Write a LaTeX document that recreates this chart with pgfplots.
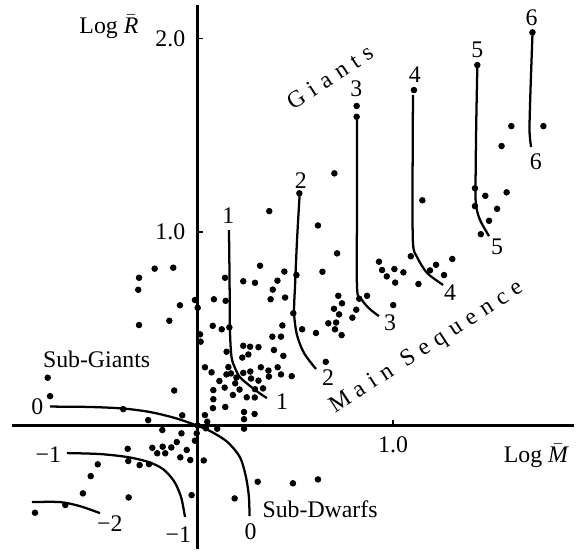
\documentclass[border=0pt]{standalone}
\usepackage{fontspec}
\setmainfont{Liberation Serif}
\usepackage{pgfplots}
\pgfplotsset{compat=1.18}
\newcommand\ls{\kern0.3em}
\begin{document}
\begin{tikzpicture}
\begin{axis}[
  scale only axis, width=242.76pt, height=232.68pt,
  xmin=-1.010, xmax=1.946, ymin=-0.662, ymax=2.198,
  axis lines=none, clip=false,
]
% axes
\draw[line width=1.2pt] (axis cs:-0.949,0) -- (axis cs:1.926,0);
\draw[line width=1.2pt] (axis cs:0,-0.637) -- (axis cs:0,2.172);
\draw[line width=0.6pt] (axis cs:0,1.0) -- (axis cs:0.028,1.0);
\draw[line width=0.6pt] (axis cs:0,2.0) -- (axis cs:0.028,2.0);
\draw[line width=0.6pt] (axis cs:1.0,0) -- (axis cs:1.0,0.03);
\node[anchor=east] at (axis cs:-0.02,2.0) {2.0};
\node[anchor=east] at (axis cs:-0.02,1.0) {1.0};
\node at (axis cs:1.0,-0.099) {1.0};
\node at (axis cs:-0.453,2.059) {Log $\bar{\mbox{\itshape R}}$};
\node at (axis cs:1.731,-0.156) {Log $\bar{\mbox{\itshape M}}$};
% data points
\addplot[only marks, mark=*, mark size=1.15pt, black] table {
x y
-0.219 0.811
-0.124 0.816
-0.299 0.764
-0.303 0.702
-0.090 0.622
-0.013 0.649
0.001 0.609
-0.299 0.520
-0.144 0.542
0.141 0.764
0.084 0.653
0.144 0.645
0.234 0.746
0.294 0.738
0.320 0.826
0.367 1.108
0.444 0.796
0.409 0.749
0.385 0.703
0.374 0.653
0.448 0.662
0.078 0.516
0.124 0.498
0.163 0.508
0.013 0.472
0.016 0.434
0.434 0.518
0.383 0.460
0.427 0.460
0.149 0.382
0.234 0.413
0.269 0.408
0.312 0.406
0.260 0.368
0.229 0.352
0.391 0.391
0.439 0.361
0.038 0.302
0.072 0.276
0.158 0.303
0.171 0.270
0.148 0.265
0.234 0.273
0.270 0.280
0.324 0.302
0.363 0.285
0.410 0.302
0.427 0.265
0.482 0.256
0.365 0.254
0.112 0.231
0.199 0.249
0.215 0.187
0.274 0.244
0.312 0.233
0.139 0.197
0.193 0.219
0.081 0.184
0.181 0.159
0.252 0.147
0.293 0.146
0.294 0.189
0.335 0.193
0.081 0.137
0.079 0.091
0.142 0.097
0.238 0.071
0.292 0.061
0.238 0.034
0.038 0.055
0.050 0.021
0.001 0.001
0.101 -0.015
0.238 -0.015
0.043 -0.013
-0.119 0.182
-0.078 0.054
-0.252 0.029
-0.180 -0.022
-0.082 -0.039
-0.004 -0.039
-0.013 -0.077
-0.106 -0.084
-0.134 -0.112
-0.178 -0.108
-0.231 -0.114
-0.206 -0.142
-0.165 -0.142
-0.055 -0.125
-0.088 -0.163
-0.037 -0.177
0.032 -0.179
-0.357 -0.119
-0.354 -0.182
-0.296 -0.203
-0.248 -0.198
-0.510 -0.199
-0.546 -0.260
-0.586 -0.349
-0.352 -0.370
-0.030 -0.358
0.190 -0.375
0.308 -0.289
-0.676 -0.409
-0.831 -0.449
-0.766 0.248
-0.754 0.153
-0.380 0.086
0.488 -0.297
0.616 -0.277
0.506 0.778
0.490 0.581
0.535 0.498
0.606 0.479
0.616 1.034
0.700 1.303
0.714 0.890
0.639 0.795
0.720 0.671
0.739 0.632
0.698 0.604
0.724 0.575
0.669 0.529
0.709 0.533
0.703 0.498
0.737 0.468
0.812 0.599
0.792 0.558
0.827 0.656
0.867 0.671
0.656 0.330
1.001 0.623
0.928 0.847
0.944 0.804
1.007 0.809
1.053 0.792
0.968 0.771
1.011 0.739
1.130 0.732
1.091 0.875
1.150 1.164
1.189 0.802
1.220 0.831
1.261 0.778
1.303 0.861
1.419 1.226
1.472 1.187
1.419 1.134
1.532 1.120
1.581 1.205
1.491 1.058
1.449 0.989
1.555 1.444
1.605 1.547
1.769 1.547
0.521 1.200
0.814 1.651
0.814 1.595
1.107 1.733
1.431 1.862
1.713 2.031
};
% curves
\addplot[black, line width=0.95pt, smooth] coordinates {
(-0.754,0.099) (-0.550,0.097) (-0.381,0.089) (-0.243,0.071) (-0.115,0.040) (0,0) (0.064,-0.027) (0.151,-0.082) (0.217,-0.162) (0.248,-0.265) (0.263,-0.368) (0.266,-0.466)};
\addplot[black, line width=0.95pt, smooth] coordinates {
(-0.668,-0.141) (-0.499,-0.146) (-0.355,-0.162) (-0.248,-0.188) (-0.176,-0.224) (-0.120,-0.286) (-0.084,-0.368) (-0.064,-0.471)};
\addplot[black, line width=0.95pt, smooth] coordinates {
(-0.847,-0.394) (-0.703,-0.394) (-0.601,-0.415) (-0.499,-0.451)};
\addplot[black, line width=0.95pt, smooth] coordinates {
(0.161,1.010) (0.164,0.752) (0.166,0.494) (0.174,0.355) (0.192,0.298) (0.217,0.251) (0.263,0.210) (0.309,0.174) (0.355,0.143)};
\addplot[black, line width=0.95pt, smooth] coordinates {
(0.522,1.186) (0.509,0.959) (0.499,0.726) (0.494,0.582) (0.509,0.468) (0.545,0.375) (0.606,0.293)};
\addplot[black, line width=0.95pt, smooth] coordinates {
(0.816,1.578) (0.816,1.165) (0.816,0.711) (0.841,0.649) (0.882,0.602) (0.928,0.566)};
\addplot[black, line width=0.95pt, smooth] coordinates {
(1.102,1.707) (1.100,1.268) (1.102,0.943) (1.123,0.871) (1.174,0.789) (1.256,0.727)};
\addplot[black, line width=0.95pt, smooth] coordinates {
(1.431,1.847) (1.425,1.527) (1.422,1.227) (1.425,1.134) (1.445,1.062) (1.491,0.979)};
\addplot[black, line width=0.95pt, smooth] coordinates {
(1.713,2.017) (1.703,1.733) (1.698,1.527) (1.706,1.439)};
% curve labels
\node at (axis cs:0.158,1.087) {1};
\node at (axis cs:0.432,0.122) {1};
\node at (axis cs:0.528,1.268) {2};
\node at (axis cs:0.668,0.251) {2};
\node at (axis cs:0.812,1.738) {3};
\node at (axis cs:0.985,0.530) {3};
\node at (axis cs:1.111,1.811) {4};
\node at (axis cs:1.292,0.685) {4};
\node at (axis cs:1.431,1.940) {5};
\node at (axis cs:1.532,0.922) {5};
\node at (axis cs:1.709,2.105) {6};
\node at (axis cs:1.730,1.362) {6};
\node at (axis cs:-0.819,0.098) {0};
\node at (axis cs:0.272,-0.547) {0};
\node at (axis cs:-0.763,-0.151) {−1};
\node at (axis cs:-0.098,-0.564) {−1};
\node at (axis cs:-0.448,-0.504) {−2};
\node at (axis cs:-0.516,0.343) {Sub-Giants};
\node at (axis cs:0.627,-0.430) {Sub-Dwarfs};
\node[rotate=33] at (axis cs:0.678,1.800) {G\ls i\ls a\ls n\ls t\ls s};
\node[rotate=33] at (axis cs:1.174,0.402) {M\ls a\ls i\ls n\ls\ S\ls e\ls q\ls u\ls e\ls n\ls c\ls e};
\coordinate (bl) at (axis cs:-1.010,-0.662);
\coordinate (tr) at (axis cs:1.946,2.198);
\end{axis}
\pgfresetboundingbox
\useasboundingbox (bl) rectangle (tr);
\end{tikzpicture}
\end{document}
